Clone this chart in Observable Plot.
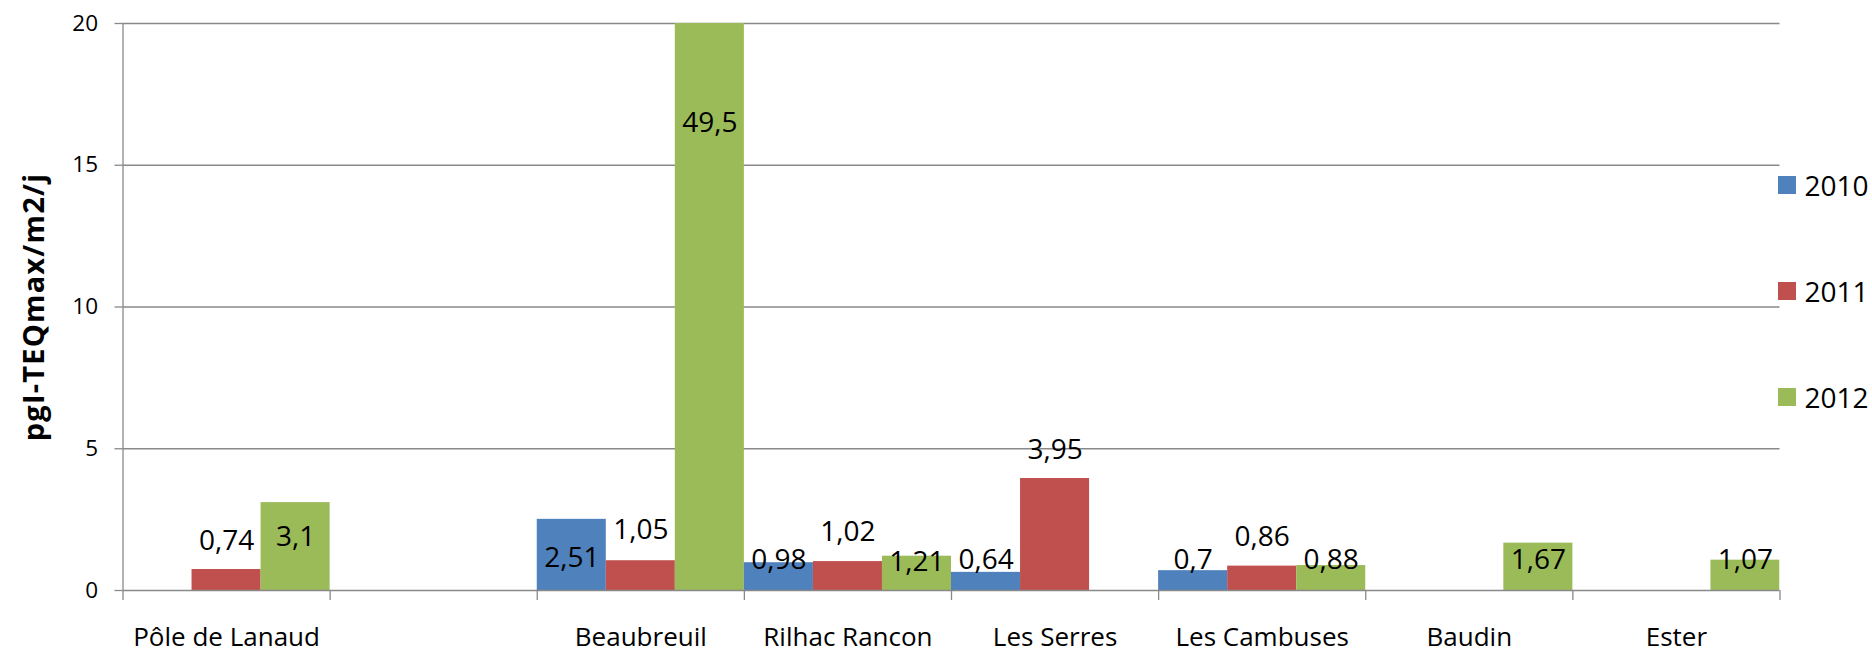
<!DOCTYPE html>
<html>
<head>
<meta charset="utf-8">
<script src="https://cdn.jsdelivr.net/npm/d3@7"></script>
<script src="https://cdn.jsdelivr.net/npm/@observablehq/plot@0.6"></script>
<style>
  html, body { margin: 0; padding: 0; background: #fff; }
  #wrap { position: relative; width: 1872px; height: 654px; font-family: "Open Sans", sans-serif; }
  #legend { position: absolute; left: 1778px; top: 176px; }
  .item { display: flex; align-items: center; height: 18px; margin-bottom: 88px; }
  .sw { width: 17.5px; height: 17.5px; margin-right: 9px; }
  .lab { font-size: 28px; color: #000; line-height: 18px; }
  g[aria-label="y-axis label"] text { font-weight: bold; font-size: 29px; letter-spacing: 1.2px; }
</style>
</head>
<body>
<div id="wrap"></div>
<script>
const categories = ["Pôle de Lanaud", "", "Beaubreuil", "Rilhac Rancon", "Les Serres", "Les Cambuses", "Baudin", "Ester"];
const years = ["2010", "2011", "2012"];
const colors = ["#4F81BD", "#C0504D", "#9BBB59"];
const v2010 = [null, null, 2.51, 0.98, 0.64, 0.7, null, null];
const v2011 = [0.74, null, 1.05, 1.02, 3.95, 0.86, null, null];
const v2012 = [3.1, null, 49.5, 1.21, null, 0.88, 1.67, 1.07];
// where each value label sits (in axis units)
const lab2010 = [null, null, 1.13, 1.06, 1.06, 1.06, null, null];
const lab2011 = [1.76, null, 2.12, 2.05, 4.97, 1.87, null, null];
const lab2012 = [1.87, null, 16.5, 0.99, null, 1.06, 1.06, 1.06];
const yTicks = [0, 5, 10, 15, 20];
const yTitle = "pgI-TEQmax/m2/j";

const series = [v2010, v2011, v2012];
const labels = [lab2010, lab2011, lab2012];
const rows = categories.flatMap((c, i) => years.map((yr, k) => ({
  cat: c, i, k, year: yr, value: series[k][i], labelY: labels[k][i]
}))).filter(d => d.value != null);

const n = years.length;
const grid = "#898989";

const chart = Plot.plot({
  width: 1872,
  height: 654,
  marginLeft: 122.5,
  marginRight: 92.5,
  marginTop: 23,
  marginBottom: 64,
  style: { fontFamily: "Open Sans, sans-serif", color: "#000", background: "#fff" },
  x: { type: "linear", domain: [0, categories.length], axis: null },
  y: { type: "linear", domain: [0, 20], axis: null },
  color: { domain: years, range: colors },
  marks: [
    Plot.gridY(yTicks.slice(1), { stroke: grid, strokeOpacity: 1, strokeWidth: 1.3 }),
    Plot.rectY(rows, {
      x1: d => d.i + d.k / n,
      x2: d => d.i + (d.k + 1) / n,
      y1: 0,
      y2: "value",
      fill: "year",
      inset: 0,
      clip: true
    }),
    Plot.ruleY([0], { stroke: grid, strokeWidth: 1.3 }),
    Plot.ruleX([0], { stroke: grid, strokeWidth: 1.3 }),
    Plot.axisY({
      ticks: yTicks, tickSize: 8, tickPadding: 17, fontSize: 22.5, stroke: grid, strokeWidth: 1.3,
      label: yTitle, labelAnchor: "center", labelOffset: 100, labelArrow: "none"
    }),
    Plot.axisX({
      ticks: d3.range(0, categories.length + 1), tickSize: 10, stroke: grid, strokeWidth: 1.3,
      tickFormat: () => "", label: null
    }),
    Plot.axisX({
      ticks: d3.range(0.5, categories.length, 1), tickSize: 0, tickPadding: 37.5, fontSize: 26,
      tickFormat: d => categories[Math.floor(d)], label: null
    }),
    Plot.text(rows, {
      x: d => d.i + (d.k + 0.5) / n,
      y: "labelY",
      text: d => String(d.value).replace(".", ","),
      fontSize: 28,
      fill: "#000",
      lineAnchor: "middle"
    })
  ]
});

const wrap = document.getElementById("wrap");
wrap.appendChild(chart);
const legend = document.createElement("div");
legend.id = "legend";
years.forEach((yr, k) => {
  const it = document.createElement("div");
  it.className = "item";
  it.innerHTML = `<div class="sw" style="background:${colors[k]}"></div><div class="lab">${yr}</div>`;
  legend.appendChild(it);
});
wrap.appendChild(legend);
</script>
</body>
</html>
